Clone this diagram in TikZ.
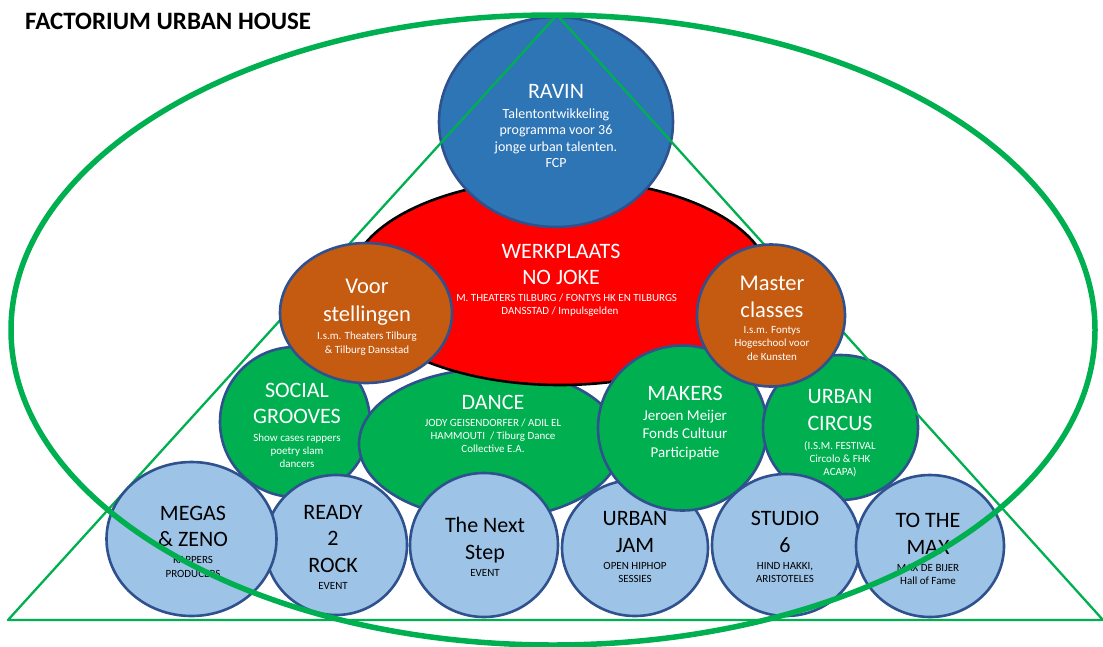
\documentclass[tikz,border=0pt]{standalone}
\usepackage{fontspec}
\setmainfont{Carlito}
\usetikzlibrary{shapes.geometric}
\definecolor{ravinblue}{HTML}{2E75B6}
\definecolor{outl}{HTML}{2F528F}
\definecolor{wred}{HTML}{FF0000}
\definecolor{orng}{HTML}{C55A11}
\definecolor{grn}{HTML}{00B050}
\definecolor{lblue}{HTML}{9DC3E6}
\begin{document}
\begin{tikzpicture}[x=1pt,y=-1pt,
  blob/.style={ellipse, draw=outl, line width=2.6pt, inner sep=0pt, outer sep=0pt},
  greenblob/.style={blob, fill=grn},
  blueblob/.style={blob, fill=lblue},
  orangeblob/.style={blob, fill=orng},
  wt/.style={text=white, align=center, inner sep=0pt},
  bt/.style={text=black, align=center, inner sep=0pt},
  big/.style={font=\fontsize{22}{26.5}\selectfont},
  sm/.style={font=\fontsize{11}{13.2}\selectfont},
  greenline/.style={draw=grn, line width=2.3pt}
]
\useasboundingbox (0,0) rectangle (1103,646);

% title
\node[anchor=west, inner sep=0pt, font=\fontsize{25}{28}\selectfont\bfseries] (title) at (25,21) {FACTORIUM URBAN HOUSE};

% URBAN JAM (below the green circles)
\node[blueblob, minimum width=146pt, minimum height=136pt] (jam) at (635,548) {};
\node[bt,big] (jam-t) at (635,532) {URBAN\\JAM};
\node[bt,sm] (jam-s) at (635,572.5) {OPEN HIPHOP\\SESSIES};

% SOCIAL GROOVES
\node[greenblob, minimum width=150pt, minimum height=150pt] (social) at (295,422) {};
\node[wt,big] (social-t) at (297,403.5) {SOCIAL\\GROOVES};
\node[wt,sm] (social-s) at (297,450.5) {Show cases rappers\\poetry slam\\dancers};

% DANCE
\node[greenblob, minimum width=262pt, minimum height=150pt] (dance) at (490,444) {};
\node[wt,big] (dance-t) at (493,402.5) {DANCE};
\node[wt,sm] (dance-s) at (493,436) {JODY GEISENDORFER / ADIL EL\\HAMMOUTI \ / Tiburg Dance\\Collective E.A.};

% WERKPLAATS
\node[ellipse, draw=black, line width=2.6pt, fill=wred, inner sep=0pt, minimum width=420pt, minimum height=206pt] (werk) at (560,282) {};
\node[wt,big] (werk-t) at (561,264.5) {WERKPLAATS\\NO JOKE};
\node[wt,sm] (werk-s) at (560,305) {\hphantom{I.S.}M. THEATERS TILBURG / FONTYS HK EN TILBURGS\\DANSSTAD / Impulsgelden};

% MAKERS
\node[greenblob, minimum width=169pt, minimum height=165pt] (makers) at (682.5,428) {};
\node[wt,big] (makers-t) at (685,393.5) {MAKERS};
\node[wt,font=\fontsize{15}{18.5}\selectfont] (makers-s) at (685,435) {Jeroen Meijer\\Fonds Cultuur\\Participatie};

% URBAN CIRCUS
\node[greenblob, minimum width=155pt, minimum height=145pt] (circus) at (840.5,427.5) {};
\node[wt,big] (circus-t) at (840,410) {URBAN\\CIRCUS};
\node[wt,sm] (circus-s) at (840,459) {(I.S.M. FESTIVAL\\Circolo \& FHK\\ACAPA)};

% RAVIN
\node[blob, fill=ravinblue, minimum width=234pt, minimum height=210pt] (ravin) at (556,122) {};
\node[wt,big] (ravin-t) at (556,91.5) {RAVIN};
\node[wt,font=\fontsize{14}{16.4}\selectfont] (ravin-s) at (556,138) {Talentontwikkeling\\programma voor 36\\jonge urban talenten.\\FCP};

% triangle
\coordinate (apex) at (557,15);
\coordinate (bl) at (8,620);
\coordinate (br) at (1103,620);
\draw[greenline, line join=round] (bl) -- (apex) -- (br) -- cycle;

% Voor stellingen
\node[orangeblob, minimum width=172pt, minimum height=140pt] (voor) at (366,313) {};
\node[wt,font=\fontsize{22.5}{28}\selectfont] (voor-t) at (367,302.5) {Voor\\stellingen};
\node[wt,font=\fontsize{11}{14}\selectfont] (voor-s) at (367,343.5) {I.s.m. Theaters Tilburg\\\& Tilburg Dansstad};

% Master classes
\node[orangeblob, minimum width=148pt, minimum height=142pt] (master) at (771,315.5) {};
\node[wt,font=\fontsize{22.5}{27}\selectfont] (master-t) at (772,297) {Master\\classes};
\node[wt,sm] (master-s) at (772,343.5) {I.s.m. Fontys\\Hogeschool voor\\de Kunsten};

% bottom row
\node[blueblob, minimum width=142pt, minimum height=140pt] (ready) at (336,545) {};
\node[bt,big] (ready-t) at (333,539) {READY\\2\\ROCK};
\node[bt,sm] (ready-s) at (333,585.5) {EVENT};

\node[blueblob, minimum width=170pt, minimum height=154pt] (megas) at (191.5,539) {};
\node[bt,big] (megas-t) at (193,526.5) {MEGAS\\\& ZENO};
\node[bt,sm] (megas-s) at (193,567) {RAPPERS\\PRODUCERS};

\node[blueblob, minimum width=148pt, minimum height=144pt] (next) at (484,545) {};
\node[bt,big] (next-t) at (485,540) {The Next\\Step};
\node[bt,sm] (next-s) at (485,572.5) {EVENT};

\node[blueblob, minimum width=148pt, minimum height=142pt] (studio) at (786,545) {};
\node[bt,big] (studio-t) at (785,532) {STUDIO\\6};
\node[bt,sm] (studio-s) at (785,572.5) {HIND HAKKI,\\ARISTOTELES};

\node[blueblob, minimum width=148pt, minimum height=142pt] (max) at (930,546) {};
\node[bt,big] (max-t) at (928,534) {TO THE\\MAX};
\node[bt,sm] (max-s) at (928,574.5) {MAX DE BIJER\\Hall of Fame};

% big ellipse
\node[ellipse, draw=grn, line width=5.5pt, inner sep=0pt, minimum width=1084pt, minimum height=630pt] (house) at (553,330) {};
\end{tikzpicture}
\end{document}
